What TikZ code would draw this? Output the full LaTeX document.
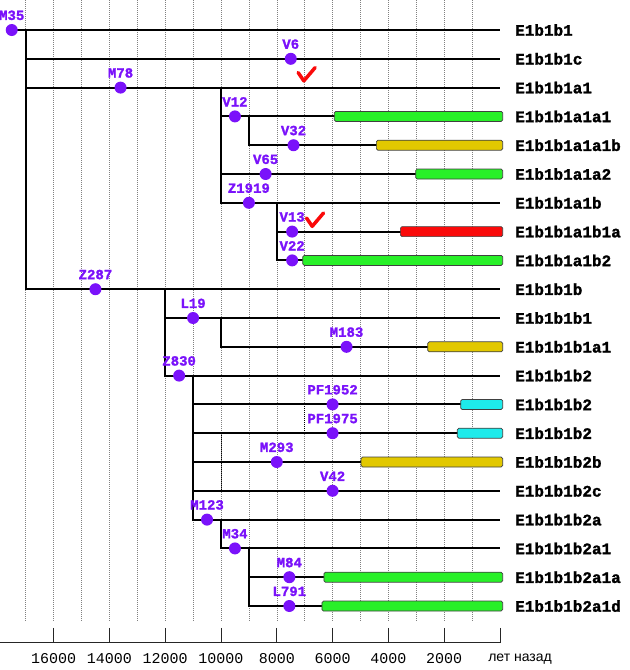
\documentclass[tikz,border=0pt]{standalone}
\usepackage{fontspec}
\newfontfamily\hapfont[BoldFeatures={FakeBold=1.5}]{Liberation Mono}
\newfontfamily\cyrfont{Liberation Sans}
\usetikzlibrary{positioning}
\definecolor{snpcol}{RGB}{122,18,250}
\definecolor{grncol}{RGB}{40,240,40}
\definecolor{ylwcol}{RGB}{226,200,0}
\definecolor{redcol}{RGB}{250,10,10}
\definecolor{cyncol}{RGB}{30,235,235}
\tikzset{
  snp/.style={circle,fill=snpcol,inner sep=0pt,minimum size=12pt},
  snplab/.style={font=\hapfont\bfseries\fontsize{14}{14}\selectfont,text=snpcol,inner sep=0pt},
  hap/.style={font=\hapfont\bfseries\fontsize{16}{16}\selectfont,inner sep=0pt},
  yrlab/.style={font=\hapfont\fontsize{15}{15}\selectfont,inner sep=0pt},
  branch/.style={line width=2pt},
  ageband/.style={draw=black!75,line width=0.7pt,rounded corners=1.5pt},
  agegrid/.style={gray,line width=0.5pt,dash pattern=on 1pt off 1pt},
  okmark/.pic={\draw[redcol,line width=3.5pt,line cap=round,line join=round]
    (-8.5pt,1.5pt) -- (-2.8pt,-6.8pt) -- (8.5pt,6.5pt);}
}
\begin{document}
\begin{tikzpicture}[x=-27.9pt,y=-28.8pt]
\useasboundingbox (17.921,-1.042) rectangle (-4.659,22.222);
\foreach \k in {1,...,17}
  \draw[agegrid] (\k,-1.042) -- (\k,20.49);
\draw[black,line width=0.8pt,dash pattern=on 1pt off 1pt] (7,13) -- (7,14);
\draw[black,line width=0.8pt,dash pattern=on 1pt off 1pt] (10,14) -- (10,16);

\foreach \r/\name in {0/E1b1b1,1/E1b1b1c,2/E1b1b1a1,3/E1b1b1a1a1,4/E1b1b1a1a1b,
    5/E1b1b1a1a2,6/E1b1b1a1b,7/E1b1b1a1b1a,8/E1b1b1a1b2,9/E1b1b1b,10/E1b1b1b1,
    11/E1b1b1b1a1,12/E1b1b1b2,13/E1b1b1b2,14/E1b1b1b2,15/E1b1b1b2b,16/E1b1b1b2c,
    17/E1b1b1b2a,18/E1b1b1b2a1,19/E1b1b1b2a1a,20/E1b1b1b2a1d}{
  \coordinate (e\r) at (0,\r);
  \node[hap,right=15pt of e\r] (h\r) {\name};
}
\foreach \n/\k/\r in {M35/17.5/0,V6/7.5/1,M78/13.6/2,V12/9.5/3,V32/7.4/4,V65/8.4/5,
    Z1919/9.0/6,V13/7.45/7,V22/7.45/8,Z287/14.5/9,L19/11.0/10,M183/5.5/11,
    Z830/11.5/12,PF1952/6.0/13,PF1975/6.0/14,M293/8.0/15,V42/6.0/16,
    M123/10.5/17,M34/9.5/18,M84/7.55/19,L791/7.55/20}
  \coordinate (\n) at (\k,\r);

\coordinate (xM35) at (17,0);
\coordinate (xM78) at (10,2);
\coordinate (xV12) at (9,3);
\coordinate (xZ1919) at (8,6);
\coordinate (xZ287) at (12,9);
\coordinate (xL19) at (10,10);
\coordinate (xZ830) at (11,12);
\coordinate (xM123) at (10,17);
\coordinate (xM34) at (9,18);

\draw[branch] (M35) -- (e0);
\draw[branch] (xM35) |- (e1) (xM35) |- (e2) (xM35) |- (e9);
\draw[branch] (xM78) |- (e3) (xM78) |- (e5) (xM78) |- (e6);
\draw[branch] (xV12) |- (e4);
\draw[branch] (xZ1919) |- (e7) (xZ1919) |- (e8);
\draw[branch] (xZ287) |- (e10) (xZ287) |- (e12);
\draw[branch] (xL19) |- (e11);
\foreach \r in {13,...,17}
  \draw[branch] (xZ830) |- (e\r);
\draw[branch] (xM123) |- (e18);
\draw[branch] (xM34) |- (e19) (xM34) |- (e20);

\foreach \r/\k/\c in {3/5.94/grncol,4/4.43/ylwcol,5/3.02/grncol,7/3.57/redcol,
    8/7.07/grncol,11/2.59/ylwcol,13/1.41/cyncol,14/1.53/cyncol,15/4.98/ylwcol,
    19/6.31/grncol,20/6.38/grncol}
  \draw[ageband,fill=\c] ({\k},{\r-0.1736}) rectangle (-0.097,{\r+0.1736});

\foreach \n in {M35,V6,M78,V12,V32,V65,Z1919,V13,V22,Z287,L19,M183,Z830,
    PF1952,PF1975,M293,V42,M123,M34,M84,L791}
  \node[snp,label={[snplab,label distance=3.5pt]above:\n}] (d\n) at (\n) {};

\pic at (6.93,1.53) {okmark};
\pic at (6.63,6.58) {okmark};

\coordinate (ax0) at (17.921,21.28);
\coordinate (ax1) at (0,21.28);
\draw[black!85,line width=0.8pt] (ax0) -- (ax1);
\foreach \k in {0,2,...,16}
  \draw[black!85,line width=0.8pt] (\k,20.76) -- (\k,21.28);
\foreach \k in {2,4,...,16}
  \node[yrlab] (t\k) at (\k,21.84) {\k000};
\node[font=\cyrfont\fontsize{14}{14}\selectfont,inner sep=0pt] (unit) at (-0.72,21.84) {лет назад};
\end{tikzpicture}
\end{document}
